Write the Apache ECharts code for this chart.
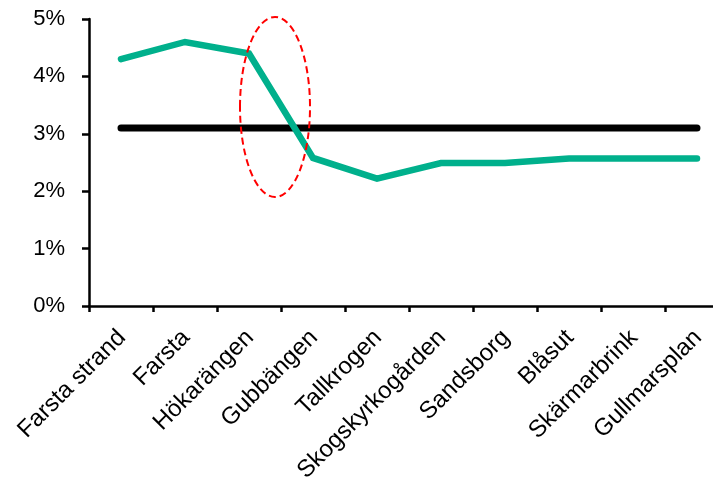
<!DOCTYPE html>
<html>
<head>
<meta charset="utf-8">
<script src="https://cdn.jsdelivr.net/npm/echarts@6/dist/echarts.min.js"></script>
<style>
  html, body { margin: 0; padding: 0; background: #fff; }
  #chart { width: 713px; height: 479px; }
</style>
</head>
<body>
<div id="chart"></div>
<script>
// Stations along the line, south to north
const stations = ['Farsta strand', 'Farsta', 'Hökarängen', 'Gubbängen', 'Tallkrogen',
  'Skogskyrkogården', 'Sandsborg', 'Blåsut', 'Skärmarbrink', 'Gullmarsplan'];
// Share per station, in percent
const stationShare = [4.3, 4.6, 4.4, 2.58, 2.22, 2.49, 2.49, 2.57, 2.57, 2.57];
// Reference level, in percent
const referenceShare = [3.1, 3.1, 3.1, 3.1, 3.1, 3.1, 3.1, 3.1, 3.1, 3.1];
// Y axis range
const yMin = 0, yMax = 5, yStep = 1;

const font = '"Liberation Sans", Arial, sans-serif';
const chart = echarts.init(document.getElementById('chart'), null, { renderer: 'canvas' });

chart.setOption({
  animation: false,
  backgroundColor: '#ffffff',
  grid: [
    // plot area runs past the right edge of the canvas
    { left: 89, width: 640, top: 19, bottom: 173, outerBoundsMode: 'none', containLabel: false },
    // label-only grid, shifted slightly right
    { left: 90, width: 640, top: 19, bottom: 173, outerBoundsMode: 'none', containLabel: false }
  ],
  xAxis: [
    {
      type: 'category', gridIndex: 0, data: stations, boundaryGap: true,
      axisLine: { lineStyle: { color: '#000', width: 2.5 } },
      axisTick: { show: true, interval: 0, length: 6, lineStyle: { color: '#000', width: 2.5 } },
      axisLabel: { show: false },
      splitLine: { show: false }
    },
    {
      type: 'category', gridIndex: 1, data: stations, boundaryGap: true,
      axisLine: { show: false }, axisTick: { show: false }, splitLine: { show: false },
      axisLabel: {
        show: true, interval: 0, rotate: 45, margin: 28,
        color: '#000', fontFamily: font, fontSize: 24
      }
    }
  ],
  yAxis: [
    {
      type: 'value', gridIndex: 0, min: yMin, max: yMax, interval: yStep,
      axisLine: { show: true, lineStyle: { color: '#000', width: 2.5 } },
      axisTick: { show: true, length: 7, lineStyle: { color: '#000', width: 2.5 } },
      splitLine: { show: false },
      axisLabel: {
        margin: 24, color: '#000', fontFamily: font, fontSize: 22,
        formatter: '{value}%'
      }
    },
    {
      type: 'value', gridIndex: 1, min: yMin, max: yMax, interval: yStep,
      show: false
    }
  ],
  series: [
    {
      name: 'Referens', type: 'line', xAxisIndex: 0, yAxisIndex: 0,
      data: referenceShare, showSymbol: false, symbol: 'none',
      lineStyle: { color: '#000000', width: 7, cap: 'round' },
      z: 2
    },
    {
      name: 'Andel', type: 'line', xAxisIndex: 0, yAxisIndex: 0,
      data: stationShare, showSymbol: false, symbol: 'none',
      lineStyle: { color: '#00B08C', width: 6.5, cap: 'round', join: 'miter' },
      z: 3
    }
  ],
  graphic: [
    {
      // dashed highlight ring around the drop after Hökarängen
      type: 'ellipse',
      shape: { cx: 275, cy: 107, rx: 35, ry: 90 },
      style: { fill: 'none', stroke: '#FF0000', lineWidth: 2, lineDash: [7, 4] },
      z: 10
    }
  ]
});
</script>
</body>
</html>
